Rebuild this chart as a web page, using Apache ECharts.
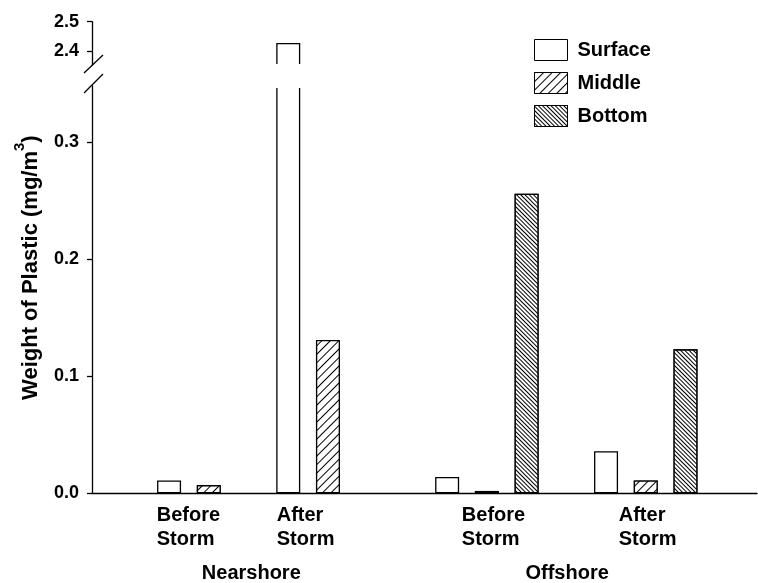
<!DOCTYPE html>
<html>
<head>
<meta charset="utf-8">
<title>Weight of Plastic</title>
<script src="https://cdn.jsdelivr.net/npm/echarts@6/dist/echarts.min.js"></script>
<style>
	html, body { margin:0; padding:0; background:#fff; }
	#chart { width:758px; height:583px; }
</style>
</head>
<body>
<div id="chart"></div>
<script type="text/javascript">
	var layers = ['Surface', 'Middle', 'Bottom'];
	var periods = ['Before\nStorm', 'After\nStorm', 'Before\nStorm', 'After\nStorm'];
	var sites = ['Nearshore', 'Offshore'];
	// weight of plastic (mg/m3), per site/period: nearshore before, after, offshore before, after
	var surface = [0.011, 2.427, 0.014, 0.036];
	var middle = [0.007, 0.131, 0.002, 0.011];
	var bottom = [null, null, 0.256, 0.123];
	var lowTicks = [0, 0.1, 0.2, 0.3];
	var highTicks = [2.4, 2.5];

	// positions on the slot axis (one slot per bar)
	var groupSlot = [1, 4, 8, 12];
	var periodSlot = [-0.31, 2.71, 7.37, 11.32];
	var siteSlot = [2.07, 10.02];

	var lowMax = 0.348, highMin = 2.351;
	var font = 'Liberation Sans, Arial, sans-serif';
	var xMin = -1.94, xMax = 14.8;

	// border colours that hide the edge where a bar is cut by the axis break
	var openTop = {
		type : 'linear', x : 0, y : 0, x2 : 0, y2 : 1,
		colorStops : [{offset : 0, color : '#fff'}, {offset : 0.006, color : '#fff'},
			{offset : 0.007, color : '#000'}, {offset : 1, color : '#000'}]
	};
	var openBottom = {
		type : 'linear', x : 0, y : 0, x2 : 0, y2 : 1,
		colorStops : [{offset : 0, color : '#000'}, {offset : 0.93, color : '#000'},
			{offset : 0.94, color : '#fff'}, {offset : 1, color : '#fff'}]
	};

	var decals = [
		null,
		{symbol : 'rect', symbolSize : 1, dashArrayX : [1, 0], dashArrayY : [1, 5],
			rotation : -Math.PI / 4, color : '#000', backgroundColor : '#fff'},
		{symbol : 'rect', symbolSize : 1, dashArrayX : [1, 0], dashArrayY : [1, 1.8],
			rotation : Math.PI / 4, color : '#000', backgroundColor : '#fff'}
	];

	function nearest(list, v) {
		var best = 0;
		for (var i = 1; i < list.length; i++) {
			if (Math.abs(list[i] - v) < Math.abs(list[best] - v)) best = i;
		}
		return best;
	}

	function lowData(values, k) {
		var out = [];
		values.forEach(function(v, i) {
			if (v == null) return;
			var item = {value : [groupSlot[i] + k - 1, v]};
			if (v > lowMax) item.itemStyle = {borderColor : openTop};
			out.push(item);
		});
		return out;
	}
	function highData(values, k) {
		var out = [];
		values.forEach(function(v, i) {
			if (v == null || v <= highMin) return;
			out.push({value : [groupSlot[i] + k - 1, v], itemStyle : {borderColor : openBottom}});
		});
		return out;
	}

	function barStyle(k) {
		var s = {color : '#fff', borderColor : '#000', borderWidth : 1.3};
		if (decals[k]) s.decal = decals[k];
		return s;
	}

	var allValues = [surface, middle, bottom];
	var series = [];
	layers.forEach(function(name, k) {
		series.push({
			name : name, type : 'bar', xAxisIndex : 0, yAxisIndex : 0,
			barWidth : 24, barGap : '-100%', clip : true,
			itemStyle : barStyle(k), data : lowData(allValues[k], k)
		});
		var hi = highData(allValues[k], k);
		if (hi.length) {
			series.push({
				name : name, type : 'bar', xAxisIndex : 1, yAxisIndex : 1,
				barWidth : 24, barGap : '-100%', clip : true,
				itemStyle : barStyle(k), data : hi
			});
		}
	});

	var axisLine = {show : true, onZero : false, lineStyle : {color : '#000', width : 1.3}};
	var tickLabel = {fontSize : 18, fontWeight : 'bold', fontFamily : font, color : '#000'};

	var option = {
		animation : false,
		backgroundColor : '#fff',
		grid : [
			{left : 92, width : 665, top : 86, height : 407.3},
			{left : 92, width : 665, top : 21.7, height : 43.3},
			{left : 92, width : 665, top : 86, height : 407.3}
		],
		legend : {
			orient : 'vertical', left : 534, top : 39, padding : 0,
			icon : 'rect', itemWidth : 33, itemHeight : 21, itemGap : 11,
			data : layers,
			itemStyle : {borderWidth : 1},
			textStyle : {fontSize : 20, fontWeight : 'bold', fontFamily : font, color : '#000', padding : [0, 0, 0, 5]}
		},
		xAxis : [{
			gridIndex : 0, type : 'value', min : xMin, max : xMax,
			axisLine : axisLine, axisTick : {show : false}, splitLine : {show : false},
			axisLabel : {
				customValues : periodSlot, align : 'left', margin : 10, lineHeight : 24,
				fontSize : 20, fontWeight : 'bold', fontFamily : font, color : '#000',
				formatter : function(v) { return periods[nearest(periodSlot, v)]; }
			}
		}, {
			gridIndex : 1, type : 'value', min : xMin, max : xMax, show : false
		}, {
			gridIndex : 2, type : 'value', min : xMin, max : xMax,
			axisLine : {show : false, onZero : false}, axisTick : {show : false}, splitLine : {show : false},
			axisLabel : {
				customValues : siteSlot, margin : 75,
				fontSize : 20, fontWeight : 'bold', fontFamily : font, color : '#000',
				formatter : function(v) { return sites[nearest(siteSlot, v)]; }
			}
		}],
		yAxis : [{
			gridIndex : 0, type : 'value', min : 0, max : lowMax,
			axisLine : axisLine,
			axisTick : {show : true, length : 5, customValues : lowTicks, lineStyle : {color : '#000', width : 1.3}},
			axisLabel : Object.assign({customValues : lowTicks, margin : 13,
				formatter : function(v) { return v.toFixed(1); }}, tickLabel),
			splitLine : {show : false},
			name : '{t|Weight of Plastic (mg/m}{s|3}{t|)}',
			nameLocation : 'middle', nameRotate : 90, nameGap : 43,
			nameTextStyle : {
				padding : [0, 0, 0, 44],
				rich : {
					t : {fontSize : 22, fontWeight : 'bold', fontFamily : font, color : '#000'},
					s : {fontSize : 15, fontWeight : 'bold', fontFamily : font, color : '#000', padding : [0, 0, 22, 0]}
				}
			}
		}, {
			gridIndex : 1, type : 'value', min : highMin, max : 2.5,
			axisLine : axisLine,
			axisTick : {show : true, length : 5, customValues : highTicks, lineStyle : {color : '#000', width : 1.3}},
			axisLabel : Object.assign({customValues : highTicks, margin : 13,
				formatter : function(v) { return v.toFixed(1); }}, tickLabel),
			splitLine : {show : false}
		}, {
			gridIndex : 2, type : 'value', min : 0, max : 1, show : false
		}],
		// axis break marks
		graphic : [
			{type : 'line', shape : {x1 : 84, y1 : 73, x2 : 103, y2 : 55}, style : {stroke : '#000', lineWidth : 1.3}},
			{type : 'line', shape : {x1 : 84, y1 : 93, x2 : 103, y2 : 74}, style : {stroke : '#000', lineWidth : 1.3}}
		],
		series : series
	};

	var chart = echarts.init(document.getElementById('chart'), null, {renderer : 'canvas'});
	chart.setOption(option);
</script>
</body>
</html>
